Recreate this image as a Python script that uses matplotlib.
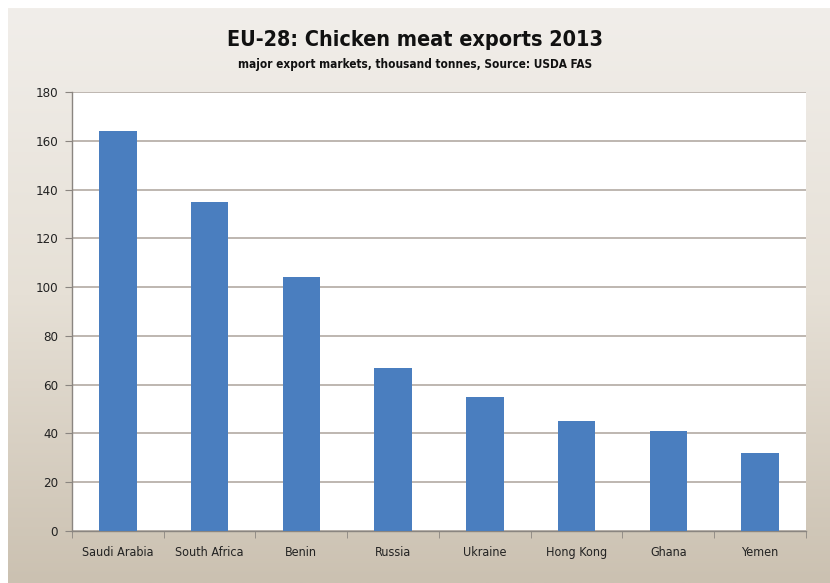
import matplotlib
matplotlib.use("Agg")
import matplotlib.pyplot as plt
import numpy as np
from matplotlib.colors import LinearSegmentedColormap

categories = ["Saudi Arabia", "South Africa", "Benin", "Russia", "Ukraine", "Hong Kong", "Ghana", "Yemen"]
values = [164, 135, 104, 67, 55, 45, 41, 32]
yticks = [0, 20, 40, 60, 80, 100, 120, 140, 160, 180]

FONT = ["DejaVu Sans"]
STRETCH = "condensed"

fig = plt.figure(figsize=(8.3, 5.83), dpi=100)
fig.patch.set_facecolor("white")

bg = fig.add_axes([0.01, 0.0, 0.99, 0.986])
cmap = LinearSegmentedColormap.from_list("bg", ["#f1eeea", "#e6e0d6", "#cbc1b1"])
grad = np.linspace(0, 1, 256).reshape(-1, 1)
bg.imshow(grad, aspect="auto", cmap=cmap, extent=[0, 1, 0, 1], origin="upper")
bg.set_axis_off()

ax = fig.add_axes([0.0867, 0.0892, 0.8843, 0.7528])
ax.set_facecolor("white")
x = np.arange(len(categories))
ax.bar(x, values, width=0.41, color="#4a7ebf", zorder=3)
ax.set_xlim(-0.5, len(categories) - 0.5)
ax.set_ylim(0, 180)
ax.set_yticks(yticks)
ax.set_yticklabels([str(t) for t in yticks], fontfamily=FONT, fontstretch=STRETCH, fontsize=9.5, color="#222222")
ax.yaxis.grid(True, color="#b3aaa3", linewidth=1.2, zorder=0)
ax.set_xticks(x)
ax.set_xticklabels(categories, fontfamily=FONT, fontstretch=STRETCH, fontsize=9, color="#222222")
ax.tick_params(axis="x", length=0, pad=11)
ax.set_xticks(np.arange(-0.5, len(categories) + 0.5, 1), minor=True)
ax.tick_params(axis="x", which="minor", length=5, color="#8a8580", direction="out")
ax.tick_params(axis="y", length=5, color="#8a8580", pad=5)
for s in ["top", "right"]:
    ax.spines[s].set_visible(False)
for s in ["left", "bottom"]:
    ax.spines[s].set_color("#8a8580")
    ax.spines[s].set_linewidth(1.0)

fig.text(0.5, 0.931, "EU-28: Chicken meat exports 2013", ha="center", va="center",
         fontfamily=FONT, fontstretch=STRETCH, fontsize=15.5, fontweight="bold", color="#111111")
fig.text(0.5, 0.889, "major export markets, thousand tonnes, Source: USDA FAS", ha="center", va="center",
         fontfamily=FONT, fontstretch=STRETCH, fontsize=8.5, fontweight="bold", color="#111111")

fig.savefig("out.png", dpi=100)
